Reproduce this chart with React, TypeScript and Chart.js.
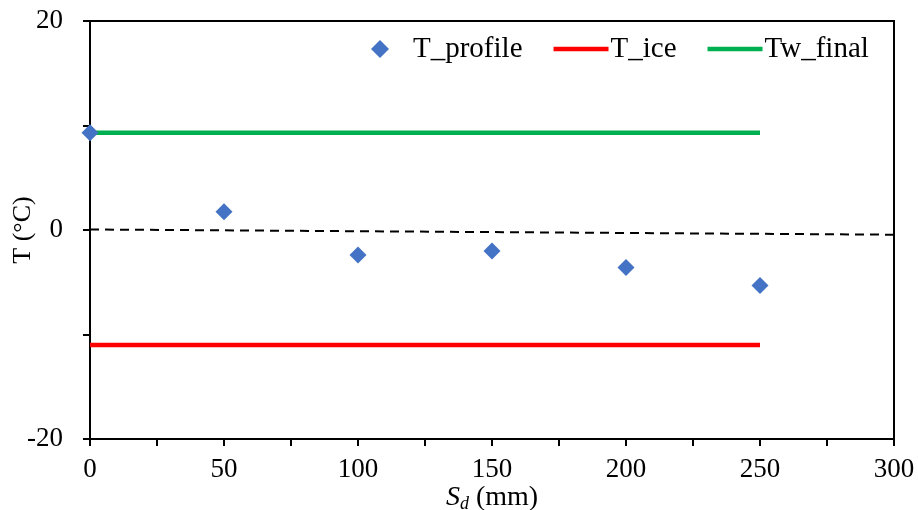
import React, { useEffect, useRef } from 'react';
import { Chart, registerables } from 'chart.js';

Chart.register(...registerables);

const FONT = '"Liberation Serif", "Times New Roman", serif';

// ---- data ----
const profileDepths = [0, 50, 100, 150, 200, 250];
const profileTemps = [9.3, 1.75, -2.4, -2.0, -3.6, -5.3];
const iceDepths = [0, 250];
const iceTemps = [-11.0, -11.0];
const finalDepths = [0, 250];
const finalTemps = [9.3, 9.3];
const trendDepths = [0, 300];
const trendTemps = [0.05, -0.45];
const seriesLabels = ['T_profile', 'T_ice', 'Tw_final'];
const xRange = [0, 300];
const yRange = [-20, 20];
const xMinorStep = 25;
const xLabelStep = 50;
const yMinorStep = 10;
const yLabelStep = 20;
const yTitle = 'T (°C)';
const xTitleMain = 'S';
const xTitleSub = 'd';
const xTitleUnit = ' (mm)';

const toPoints = (xs: number[], ys: number[]) => xs.map((x, i) => ({ x, y: ys[i] }));

const framePlugin = {
  id: 'frame',
  beforeDatasetsDraw(chart: any) {
    const { ctx, chartArea } = chart;
    ctx.save();
    ctx.strokeStyle = '#000';
    ctx.lineWidth = 2;
    ctx.beginPath();
    ctx.moveTo(chartArea.left, chartArea.top);
    ctx.lineTo(chartArea.right, chartArea.top);
    ctx.lineTo(chartArea.right, chartArea.bottom);
    ctx.stroke();
    ctx.restore();
  },
};

const xTitlePlugin = {
  id: 'xTitle',
  afterDraw(chart: any) {
    const { ctx, chartArea } = chart;
    ctx.save();
    ctx.fillStyle = '#000';
    ctx.textBaseline = 'alphabetic';
    ctx.textAlign = 'left';
    const mainFont = `italic 28px ${FONT}`;
    const subFont = `italic 18px ${FONT}`;
    const unitFont = `28px ${FONT}`;
    ctx.font = mainFont;
    const w1 = ctx.measureText(xTitleMain).width;
    ctx.font = subFont;
    const w2 = ctx.measureText(xTitleSub).width;
    ctx.font = unitFont;
    const w3 = ctx.measureText(xTitleUnit).width;
    const total = w1 + w2 + w3;
    let x = (chartArea.left + chartArea.right) / 2 - total / 2;
    const base = 505;
    ctx.font = mainFont;
    ctx.fillText(xTitleMain, x, base);
    x += w1;
    ctx.font = subFont;
    ctx.fillText(xTitleSub, x, base + 4);
    x += w2;
    ctx.font = unitFont;
    ctx.fillText(xTitleUnit, x, base);
    ctx.restore();
  },
};

const legendPlugin = {
  id: 'customLegend',
  afterDraw(chart: any) {
    const { ctx } = chart;
    const startX = 356;
    const symbolW = 55;
    const textGap = 2;
    const itemGap = 31;
    const cy = 49;
    const baseline = 57;
    ctx.save();
    ctx.font = `29px ${FONT}`;
    ctx.textBaseline = 'alphabetic';
    ctx.textAlign = 'left';
    let x = startX;
    chart.data.datasets.forEach((ds: any) => {
      if (!seriesLabels.includes(ds.label)) return;
      if (ds.showLine) {
        ctx.strokeStyle = ds.borderColor;
        ctx.lineWidth = ds.borderWidth;
        ctx.beginPath();
        ctx.moveTo(x, cy);
        ctx.lineTo(x + symbolW, cy);
        ctx.stroke();
      } else {
        const r = 9;
        const cx = x + 24;
        ctx.fillStyle = ds.pointBackgroundColor;
        ctx.beginPath();
        ctx.moveTo(cx - r, cy);
        ctx.lineTo(cx, cy - r);
        ctx.lineTo(cx + r, cy);
        ctx.lineTo(cx, cy + r);
        ctx.closePath();
        ctx.fill();
      }
      x += symbolW + textGap;
      ctx.fillStyle = '#000';
      ctx.fillText(ds.label, x, baseline);
      x += ctx.measureText(ds.label).width + itemGap;
    });
    ctx.restore();
  },
};

export default function App() {
  const ref = useRef<HTMLCanvasElement | null>(null);

  useEffect(() => {
    if (!ref.current) return;
    const chart = new Chart(ref.current, {
      type: 'scatter',
      data: {
        datasets: [
          {
            label: seriesLabels[0],
            data: toPoints(profileDepths, profileTemps),
            pointStyle: 'rectRot',
            pointRadius: 8.5,
            pointBackgroundColor: '#4472C4',
            pointBorderColor: '#4472C4',
            pointBorderWidth: 0,
            showLine: false,
            clip: false,
          } as any,
          {
            label: seriesLabels[1],
            data: toPoints(iceDepths, iceTemps),
            showLine: true,
            borderColor: '#FF0000',
            borderWidth: 4.5,
            pointRadius: 0,
          },
          {
            label: seriesLabels[2],
            data: toPoints(finalDepths, finalTemps),
            showLine: true,
            borderColor: '#00B050',
            borderWidth: 4.5,
            pointRadius: 0,
          },
          {
            label: 'trend',
            data: toPoints(trendDepths, trendTemps),
            showLine: true,
            borderColor: '#000000',
            borderWidth: 2,
            borderDash: [9, 6],
            pointRadius: 0,
          },
        ],
      },
      options: {
        responsive: false,
        animation: false,
        devicePixelRatio: 1,
        layout: { padding: { top: 21, right: 24, left: 0, bottom: 0 } },
        plugins: {
          legend: { display: false },
          tooltip: { enabled: false },
        },
        scales: {
          x: {
            type: 'linear',
            min: xRange[0],
            max: xRange[1],
            afterFit: (s: any) => {
              s.height = 71;
              s.paddingLeft = 0;
              s.paddingRight = 0;
            },
            ticks: {
              stepSize: xMinorStep,
              autoSkip: false,
              maxRotation: 0,
              padding: 8,
              color: '#000',
              font: { family: FONT, size: 27 },
              callback: (v: any) => (Number(v) % xLabelStep === 0 ? String(v) : ''),
            },
            grid: {
              drawOnChartArea: false,
              drawTicks: true,
              tickLength: 7,
              color: '#000',
              lineWidth: 2,
            },
            border: { display: true, color: '#000', width: 2 },
          },
          y: {
            type: 'linear',
            min: yRange[0],
            max: yRange[1],
            afterFit: (s: any) => {
              s.width = 90;
              s.paddingTop = 0;
              s.paddingBottom = 0;
            },
            ticks: {
              stepSize: yMinorStep,
              autoSkip: false,
              padding: 20,
              color: '#000',
              font: { family: FONT, size: 27 },
              callback: (v: any) => (Number(v) % yLabelStep === 0 ? String(v) : ''),
            },
            grid: {
              drawOnChartArea: false,
              drawTicks: true,
              tickLength: 7,
              color: '#000',
              lineWidth: 2,
            },
            border: { display: true, color: '#000', width: 2 },
            title: {
              display: true,
              text: yTitle,
              color: '#000',
              font: { family: FONT, size: 26 },
              padding: { top: 8, bottom: 0 },
            },
          },
        },
      },
      plugins: [framePlugin, xTitlePlugin, legendPlugin],
    });
    return () => chart.destroy();
  }, []);

  return (
    <div style={{ position: 'fixed', left: 0, top: 0, width: 918, height: 510, background: '#fff' }}>
      <canvas ref={ref} width={918} height={510} />
    </div>
  );
}
